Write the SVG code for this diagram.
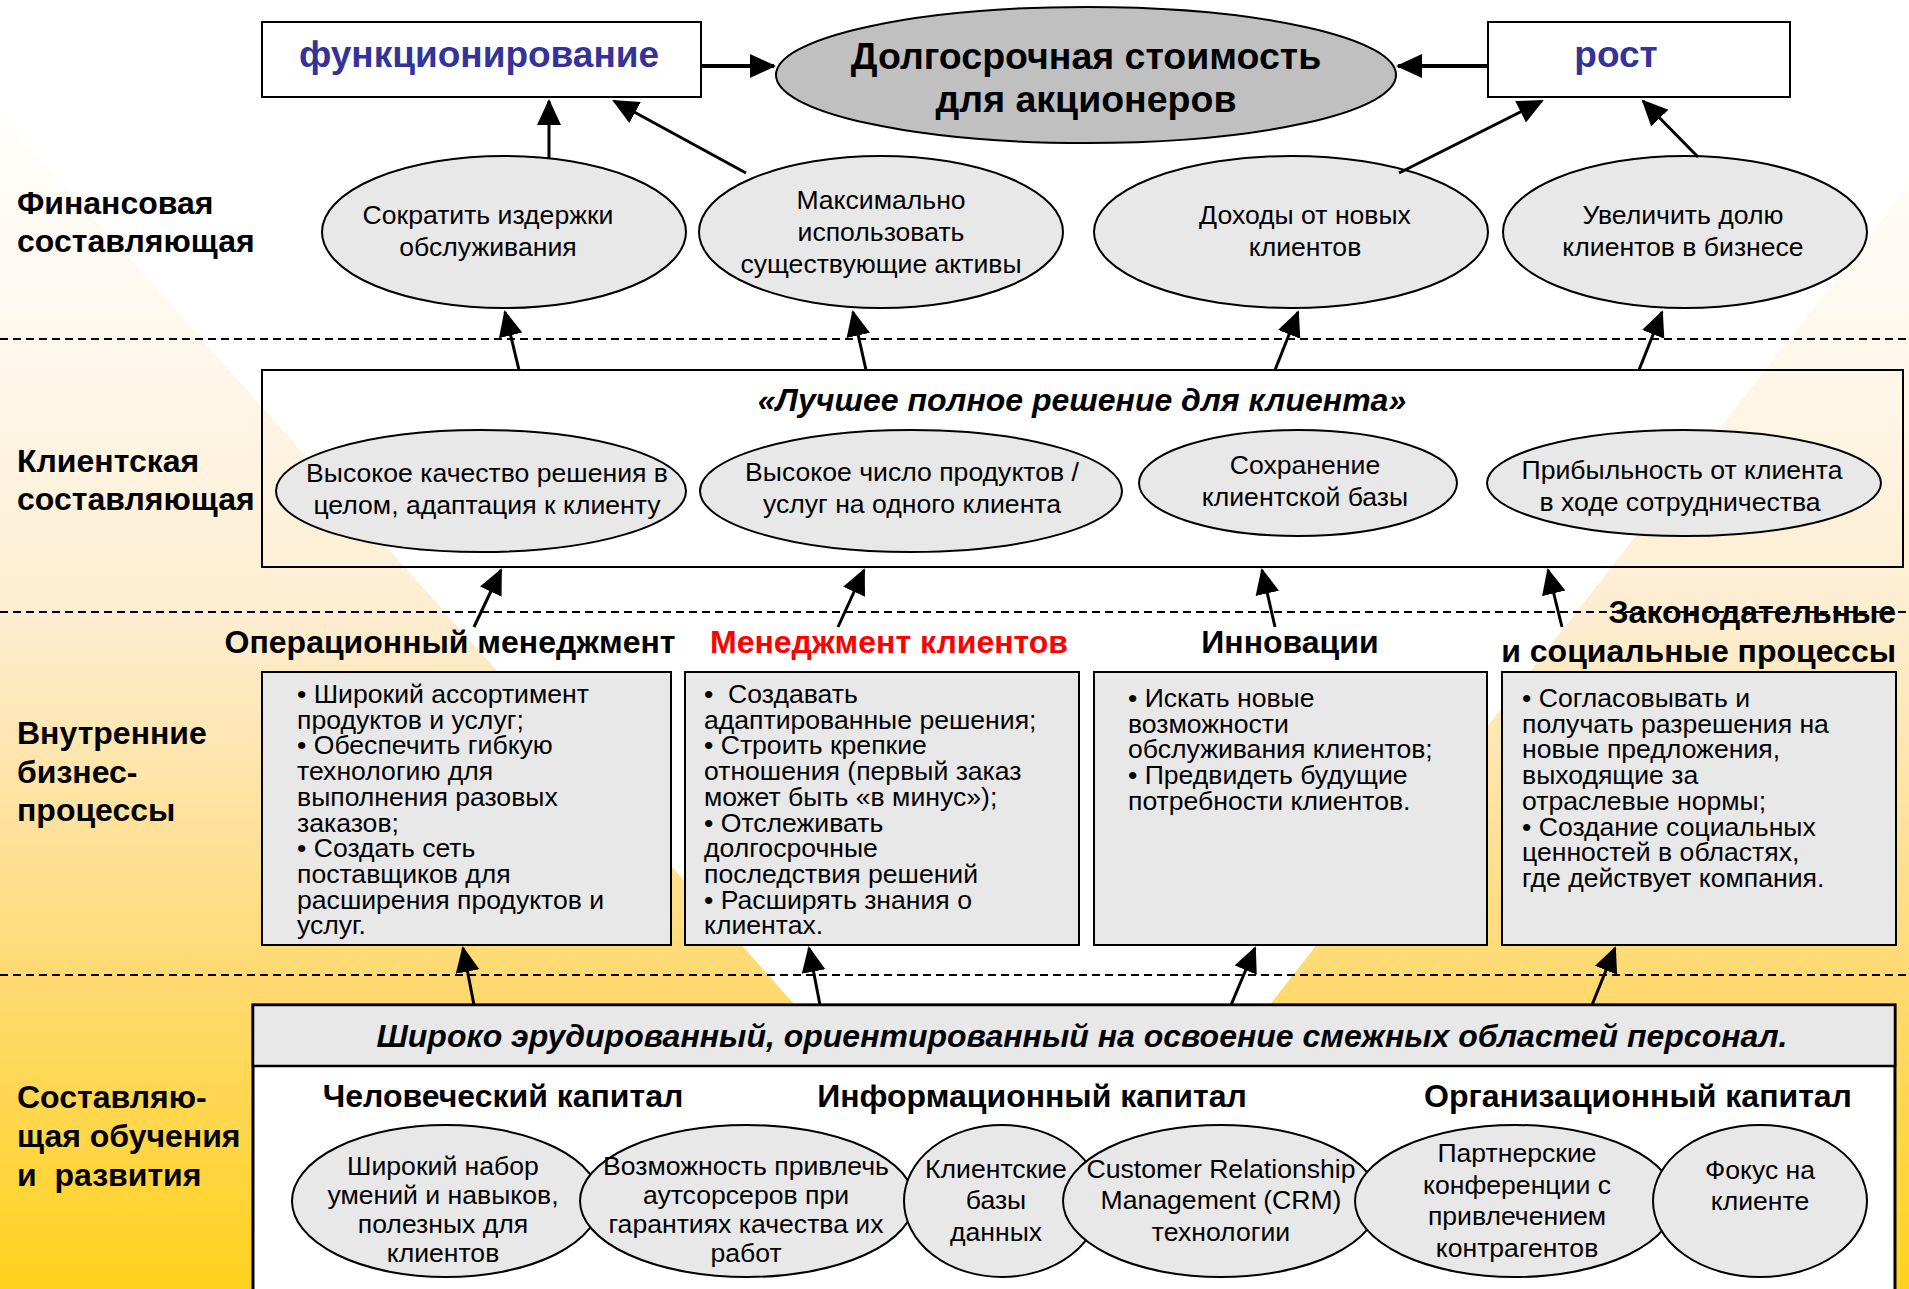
<svg xmlns="http://www.w3.org/2000/svg" width="1909" height="1289" viewBox="0 0 1909 1289">
<defs>
<linearGradient id="bg" gradientUnits="userSpaceOnUse" x1="0" y1="0" x2="0" y2="1289">
<stop offset="0" stop-color="#ffffff"/>
<stop offset="0.09" stop-color="#fffefb"/>
<stop offset="0.264" stop-color="#fef8ec"/>
<stop offset="0.48" stop-color="#fdedd0"/>
<stop offset="0.62" stop-color="#fee3a2"/>
<stop offset="0.756" stop-color="#ffda72"/>
<stop offset="1" stop-color="#ffd21e"/>
</linearGradient>
<marker id="ah" markerUnits="userSpaceOnUse" markerWidth="28" markerHeight="26" refX="24" refY="12" orient="auto">
<path d="M0,0 L26,12 L0,24 z" fill="#000"/>
</marker>
<style>
text{font-family:"Liberation Sans",Arial,sans-serif;fill:#000}
.lbl{font-size:32px;font-weight:bold}
.big{font-size:37.5px;font-weight:bold}
.blue{font-size:37px;font-weight:bold;fill:#333399}
.t{font-size:26.6px}
.c{text-anchor:middle}
.hd{font-size:32px;font-weight:bold}
.bi{font-size:32px;font-weight:bold;font-style:italic}
.box{fill:#e8e8e8;stroke:#000;stroke-width:2}
.ell{fill:#e8e8e8;stroke:#000;stroke-width:2}
.dash{stroke:#000;stroke-width:2;stroke-dasharray:8 5;fill:none}
.con line{stroke:#000;stroke-width:3;marker-end:url(#ah)}
</style>
</defs>
<rect width="1909" height="1289" fill="#ffffff"/>
<polygon points="0,113 1048,1289 0,1289" fill="url(#bg)"/>
<polygon points="1909,186 1909,1289 1048,1289" fill="url(#bg)"/>

<g id="dividers">
<line class="dash" x1="0" y1="339" x2="1909" y2="339"/>
<line class="dash" x1="0" y1="612" x2="1909" y2="612"/>
<line class="dash" x1="0" y1="975" x2="1909" y2="975"/>
</g>

<g id="side-labels">
<text class="lbl" x="17" y="214">Финансовая</text>
<text class="lbl" x="17" y="252">составляющая</text>
<text class="lbl" x="17" y="472">Клиентская</text>
<text class="lbl" x="17" y="510">составляющая</text>
<text class="lbl" x="17" y="744">Внутренние</text>
<text class="lbl" x="17" y="783">бизнес-</text>
<text class="lbl" x="17" y="821">процессы</text>
<text class="lbl" x="17" y="1108">Составляю-</text>
<text class="lbl" x="17" y="1147">щая обучения</text>
<text class="lbl" x="17" y="1186" xml:space="preserve">и  развития</text>
</g>

<g id="node-functioning">
<rect x="262" y="22" width="439" height="75" fill="#fff" stroke="#000" stroke-width="2"/>
<text class="blue c" x="479" y="67">функционирование</text>
</g>
<g id="node-value">
<ellipse cx="1086" cy="75" rx="310" ry="68" fill="#c0c0c0" stroke="#000" stroke-width="2"/>
<text class="big c" x="1086" y="69">Долгосрочная стоимость</text>
<text class="big c" x="1086" y="112">для акционеров</text>
</g>
<g id="node-growth">
<rect x="1488" y="22" width="302" height="75" fill="#fff" stroke="#000" stroke-width="2"/>
<text class="blue c" x="1616" y="67">рост</text>
</g>

<g id="node-f1">
<ellipse class="ell" cx="504" cy="232" rx="182" ry="76"/>
<text class="t c" x="488" y="224">Сократить издержки</text>
<text class="t c" x="488" y="256">обслуживания</text>
</g>
<g id="node-f2">
<ellipse class="ell" cx="881" cy="232" rx="182" ry="76"/>
<text class="t c" x="881" y="209">Максимально</text>
<text class="t c" x="881" y="241">использовать</text>
<text class="t c" x="881" y="273">существующие активы</text>
</g>
<g id="node-f3">
<ellipse class="ell" cx="1291" cy="232" rx="197" ry="76"/>
<text class="t c" x="1305" y="224">Доходы от новых</text>
<text class="t c" x="1305" y="256">клиентов</text>
</g>
<g id="node-f4">
<ellipse class="ell" cx="1685" cy="232" rx="182" ry="76"/>
<text class="t c" x="1683" y="224">Увеличить долю</text>
<text class="t c" x="1683" y="256">клиентов в бизнесе</text>
</g>

<g id="node-customer">
<rect x="262" y="370" width="1641" height="197" fill="none" stroke="#000" stroke-width="2"/>
<text class="bi c" x="1082" y="411">«Лучшее полное решение для клиента»</text>
</g>
<g id="node-c1">
<ellipse class="ell" cx="481" cy="491" rx="205" ry="61"/>
<text class="t c" x="487" y="482">Высокое качество решения в</text>
<text class="t c" x="487" y="514">целом, адаптация к клиенту</text>
</g>
<g id="node-c2">
<ellipse class="ell" cx="911" cy="491" rx="211" ry="61"/>
<text class="t c" x="912" y="481">Высокое число продуктов /</text>
<text class="t c" x="912" y="513">услуг на одного клиента</text>
</g>
<g id="node-c3">
<ellipse class="ell" cx="1298" cy="483" rx="159" ry="53"/>
<text class="t c" x="1305" y="474">Сохранение</text>
<text class="t c" x="1305" y="506">клиентской базы</text>
</g>
<g id="node-c4">
<ellipse class="ell" cx="1684" cy="483" rx="197" ry="53"/>
<text class="t c" x="1682" y="479">Прибыльность от клиента</text>
<text class="t c" x="1680" y="511">в ходе сотрудничества</text>
</g>

<g id="node-p1">
<text class="hd c" x="450" y="653">Операционный менеджмент</text>
<rect class="box" x="262" y="672" width="409" height="273"/>
<text class="t" x="297" y="703">• Широкий ассортимент</text>
<text class="t" x="297" y="728.7">продуктов и услуг;</text>
<text class="t" x="297" y="754.4">• Обеспечить гибкую</text>
<text class="t" x="297" y="780.1">технологию для</text>
<text class="t" x="297" y="805.8">выполнения разовых</text>
<text class="t" x="297" y="831.5">заказов;</text>
<text class="t" x="297" y="857.2">• Создать сеть</text>
<text class="t" x="297" y="882.9">поставщиков для</text>
<text class="t" x="297" y="908.6">расширения продуктов и</text>
<text class="t" x="297" y="934.3">услуг.</text>
</g>
<g id="node-p2">
<text class="hd c" x="889" y="653" style="fill:#ff0000">Менеджмент клиентов</text>
<rect class="box" x="685" y="672" width="394" height="273"/>
<text class="t" x="704" y="703" xml:space="preserve">•  Создавать</text>
<text class="t" x="704" y="728.7">адаптированные решения;</text>
<text class="t" x="704" y="754.4">• Строить крепкие</text>
<text class="t" x="704" y="780.1">отношения (первый заказ</text>
<text class="t" x="704" y="805.8">может быть «в минус»);</text>
<text class="t" x="704" y="831.5">• Отслеживать</text>
<text class="t" x="704" y="857.2">долгосрочные</text>
<text class="t" x="704" y="882.9">последствия решений</text>
<text class="t" x="704" y="908.6">• Расширять знания о</text>
<text class="t" x="704" y="934.3">клиентах.</text>
</g>
<g id="node-p3">
<text class="hd c" x="1290" y="653">Инновации</text>
<rect class="box" x="1094" y="672" width="393" height="273"/>
<text class="t" x="1128" y="707">• Искать новые</text>
<text class="t" x="1128" y="732.7">возможности</text>
<text class="t" x="1128" y="758.4">обслуживания клиентов;</text>
<text class="t" x="1128" y="784.1">• Предвидеть будущие</text>
<text class="t" x="1128" y="809.8">потребности клиентов.</text>
</g>
<g id="node-p4">
<text class="hd" x="1896" y="623" text-anchor="end">Законодательные</text>
<text class="hd" x="1896" y="662" text-anchor="end">и социальные процессы</text>
<rect class="box" x="1502" y="672" width="394" height="273"/>
<text class="t" x="1522" y="707">• Согласовывать и</text>
<text class="t" x="1522" y="732.7">получать разрешения на</text>
<text class="t" x="1522" y="758.4">новые предложения,</text>
<text class="t" x="1522" y="784.1">выходящие за</text>
<text class="t" x="1522" y="809.8">отраслевые нормы;</text>
<text class="t" x="1522" y="835.5">• Создание социальных</text>
<text class="t" x="1522" y="861.2">ценностей в областях,</text>
<text class="t" x="1522" y="886.9">где действует компания.</text>
</g>

<g id="node-learning">
<rect x="253" y="1005" width="1642" height="300" fill="#fff" stroke="#000" stroke-width="3"/>
<rect x="253" y="1005" width="1642" height="61" fill="#e8e8e8" stroke="#000" stroke-width="2.5"/>
<text class="bi c" x="1082" y="1047">Широко эрудированный, ориентированный на освоение смежных областей персонал.</text>
<text class="hd c" x="503" y="1107">Человеческий капитал</text>
<text class="hd c" x="1032" y="1107">Информационный капитал</text>
<text class="hd c" x="1638" y="1107">Организационный капитал</text>
</g>
<g id="node-l1">
<ellipse class="ell" cx="446" cy="1201" rx="154" ry="76"/>
<text class="t c" x="443" y="1175">Широкий набор</text>
<text class="t c" x="443" y="1204">умений и навыков,</text>
<text class="t c" x="443" y="1233">полезных для</text>
<text class="t c" x="443" y="1262">клиентов</text>
</g>
<g id="node-l2">
<ellipse class="ell" cx="747" cy="1201" rx="167" ry="76"/>
<text class="t c" x="746" y="1175">Возможность привлечь</text>
<text class="t c" x="746" y="1204">аутсорсеров при</text>
<text class="t c" x="746" y="1233">гарантиях качества их</text>
<text class="t c" x="746" y="1262">работ</text>
</g>
<g id="node-l3">
<ellipse class="ell" cx="1002" cy="1201" rx="98" ry="76"/>
<text class="t c" x="996" y="1178">Клиентские</text>
<text class="t c" x="996" y="1209">базы</text>
<text class="t c" x="996" y="1241">данных</text>
</g>
<g id="node-l4">
<ellipse class="ell" cx="1221" cy="1201" rx="158" ry="76"/>
<text class="t c" x="1221" y="1178">Customer Relationship</text>
<text class="t c" x="1221" y="1209">Management (CRM)</text>
<text class="t c" x="1221" y="1241">технологии</text>
</g>
<g id="node-l5">
<ellipse class="ell" cx="1515" cy="1201" rx="160" ry="76"/>
<text class="t c" x="1517" y="1162">Партнерские</text>
<text class="t c" x="1517" y="1194">конференции с</text>
<text class="t c" x="1517" y="1225">привлечением</text>
<text class="t c" x="1517" y="1257">контрагентов</text>
</g>
<g id="node-l6">
<ellipse class="ell" cx="1760" cy="1201" rx="107" ry="76"/>
<text class="t c" x="1760" y="1179">Фокус на</text>
<text class="t c" x="1760" y="1210">клиенте</text>
</g>

<g id="connectors" class="con">
<line x1="701" y1="66" x2="774" y2="66" style="stroke-width:4"/>
<line x1="1488" y1="66" x2="1398" y2="66" style="stroke-width:4"/>
<line x1="549" y1="158" x2="549" y2="101"/>
<line x1="746" y1="173" x2="614" y2="101"/>
<line x1="1399" y1="173" x2="1542" y2="101"/>
<line x1="1698" y1="157" x2="1643" y2="101"/>
<line x1="519" y1="370" x2="505" y2="312"/>
<line x1="866" y1="370" x2="853" y2="312"/>
<line x1="1275" y1="370" x2="1298" y2="312"/>
<line x1="1639" y1="370" x2="1662" y2="312"/>
<line x1="474" y1="627" x2="501" y2="570"/>
<line x1="838" y1="627" x2="864" y2="570"/>
<line x1="1275" y1="627" x2="1262" y2="570"/>
<line x1="1562" y1="627" x2="1548" y2="570"/>
<line x1="474" y1="1005" x2="463" y2="948"/>
<line x1="820" y1="1005" x2="809" y2="948"/>
<line x1="1231" y1="1005" x2="1255" y2="948"/>
<line x1="1592" y1="1005" x2="1615" y2="948"/>
</g>
</svg>
